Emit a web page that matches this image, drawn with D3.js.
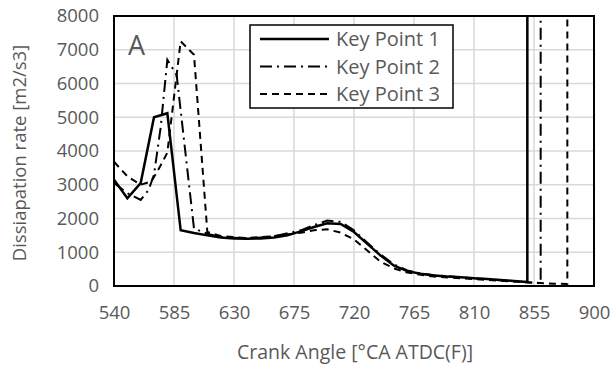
<!DOCTYPE html>
<html>
<head>
<meta charset="utf-8">
<script src="https://cdn.jsdelivr.net/npm/d3@7"></script>
<style>
  body { margin: 0; background: #fff; }
  text { font-family: "Open Sans", sans-serif; fill: #595959; }
</style>
</head>
<body>
<div id="chart"></div>
<script>
// data
const xTicks = [540, 585, 630, 675, 720, 765, 810, 855, 900];
const yTicks = [0, 1000, 2000, 3000, 4000, 5000, 6000, 7000, 8000];
const seriesNames = ["Key Point 1", "Key Point 2", "Key Point 3"];

// [crank angle, dissipation rate]; last point = jump far off the scale
const kp1 = [[540,3150],[550,2600],[560,3050],[570,5000],[580,5120],[590,1650],[600,1570],[610,1500],
  [620,1440],[630,1410],[640,1400],[650,1410],[660,1440],[670,1500],[680,1620],[690,1750],[700,1860],
  [710,1840],[720,1600],[730,1250],[740,900],[750,600],[760,440],[770,360],[780,310],[790,280],
  [800,260],[810,230],[820,210],[830,180],[840,150],[850,120],[850,40000]];
const kp2 = [[540,3050],[550,2750],[560,2550],[566,2850],[570,3300],[575,4700],[580,6700],[587,6250],
  [600,1700],[610,1550],[620,1450],[640,1410],[660,1470],[680,1650],[690,1800],[700,1940],[710,1900],
  [720,1650],[730,1280],[740,930],[750,640],[760,460],[770,370],[780,320],[800,260],[820,200],
  [840,140],[850,110],[860,80],[860,40000]];
const kp3 = [[540,3680],[550,3250],[560,3000],[568,3100],[574,3500],[580,3950],[590,7250],[600,6850],
  [610,1600],[620,1480],[640,1420],[660,1480],[680,1580],[690,1650],[700,1680],[710,1580],[720,1380],
  [730,1050],[740,720],[750,520],[760,400],[770,330],[780,280],[800,230],[820,180],[840,130],
  [860,90],[870,70],[880,60],[880,40000]];

const width = 615, height = 373;
const margin = { top: 16, right: 21, bottom: 87, left: 114 };
const innerW = width - margin.left - margin.right;
const innerH = height - margin.top - margin.bottom;

const svg = d3.select("#chart").append("svg")
  .attr("width", width).attr("height", height);

const x = d3.scaleLinear().domain([540, 900]).range([0, innerW]);
const y = d3.scaleLinear().domain([0, 8000]).range([innerH, 0]);

const g = svg.append("g").attr("transform", `translate(${margin.left},${margin.top})`);

// gridlines
g.append("g").selectAll("line").data(yTicks).join("line")
  .attr("x1", 0).attr("x2", innerW)
  .attr("y1", d => y(d)).attr("y2", d => y(d))
  .attr("stroke", "#d9d9d9").attr("stroke-width", 1.5);
g.append("g").selectAll("line").data(xTicks).join("line")
  .attr("y1", 0).attr("y2", innerH)
  .attr("x1", d => x(d)).attr("x2", d => x(d))
  .attr("stroke", "#d9d9d9").attr("stroke-width", 1.5);

// axes (labels only)
const xAxis = g.append("g").attr("transform", `translate(0,${innerH})`)
  .call(d3.axisBottom(x).tickValues(xTicks).tickSize(0).tickPadding(20).tickFormat(d3.format("d")));
const yAxis = g.append("g")
  .call(d3.axisLeft(y).tickValues(yTicks).tickSize(0).tickPadding(15).tickFormat(d3.format("d")));
[xAxis, yAxis].forEach(a => {
  a.select(".domain").remove();
  a.selectAll("text").style("font-family", "'Open Sans', sans-serif")
    .style("font-size", "18.5px").style("fill", "#595959");
});

// series
g.append("clipPath").attr("id", "clip").append("rect")
  .attr("width", innerW).attr("height", innerH);

const line = d3.line().x(d => x(d[0])).y(d => y(d[1]));
const styles = [
  { data: kp1, dash: null, w: 2.5 },
  { data: kp2, dash: "12,5,2,5", w: 2 },
  { data: kp3, dash: "7,5", w: 2 }
];
styles.forEach(s => {
  g.append("path").datum(s.data)
    .attr("clip-path", "url(#clip)")
    .attr("fill", "none").attr("stroke", "#000")
    .attr("stroke-width", s.w)
    .attr("stroke-dasharray", s.dash)
    .attr("d", line);
});

// plot border
g.append("rect").attr("width", innerW).attr("height", innerH)
  .attr("fill", "none").attr("stroke", "#000").attr("stroke-width", 2);

// panel letter
g.append("text").attr("x", 14).attr("y", 39)
  .style("font-size", "27px").text("A");

// legend
const leg = g.append("g").attr("transform", `translate(${250 - margin.left},${25 - margin.top})`);
leg.append("rect").attr("width", 203).attr("height", 83)
  .attr("fill", "#fff").attr("stroke", "#000").attr("stroke-width", 1.5);
seriesNames.forEach((name, i) => {
  const ly = 14 + i * 27.5;
  leg.append("line").attr("x1", 10).attr("x2", 79).attr("y1", ly).attr("y2", ly)
    .attr("stroke", "#000").attr("stroke-width", styles[i].w)
    .attr("stroke-dasharray", styles[i].dash);
  leg.append("text").attr("x", 86).attr("y", ly).attr("dy", "0.35em")
    .style("font-size", "20px").text(name);
});

// axis titles
svg.append("text")
  .attr("x", 355).attr("y", 359)
  .attr("text-anchor", "middle").style("font-size", "19.5px")
  .text("Crank Angle [°CA ATDC(F)]");
svg.append("text")
  .attr("transform", `translate(26,${margin.top + innerH / 2 + 2}) rotate(-90)`)
  .attr("text-anchor", "middle").style("font-size", "18.5px")
  .text("Dissiapation rate [m2/s3]");
</script>
</body>
</html>
